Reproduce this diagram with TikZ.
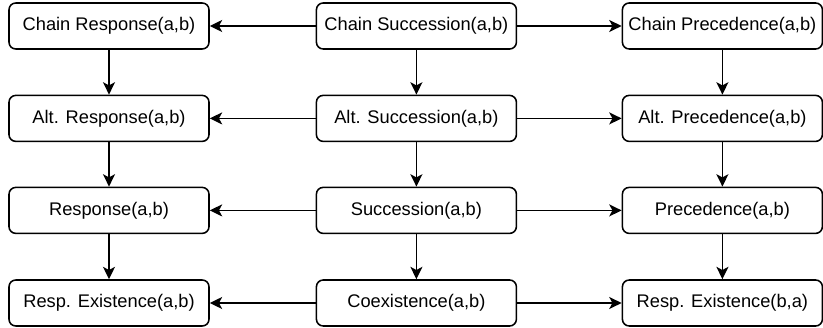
\documentclass[tikz,border=0pt]{standalone}
\usepackage{fontspec}
\setmainfont{Liberation Sans}
\usepackage{tikz}
\usetikzlibrary{positioning}
\usetikzlibrary{arrows.meta}

\tikzset{
  rule/.style={draw, line width=1.1pt, rounded corners=0.17cm,
    minimum width=5cm, minimum height=1.15cm, font=\fontsize{13}{15}\selectfont},
  impl/.style={line width=1.1pt, -{Stealth[length=0.31cm, width=0.3cm, inset=0.08cm]}}
}

\begin{document}
\begin{tikzpicture}
      \useasboundingbox (0,0) rectangle (20.575,8.2);

      \node[rule] (chresp) at (2.725,7.55) {Chain Response(a,b)};
      \node[rule] (chsucc) at (10.41,7.55) {Chain Succession(a,b)};
      \node[rule] (chprec) at (18.06,7.55) {Chain Precedence(a,b)};

      \node[rule] (altresp) at (2.725,5.24) {Alt. Response(a,b)};
      \node[rule] (altsucc) at (10.41,5.24) {Alt. Succession(a,b)};
      \node[rule] (altprec) at (18.06,5.24) {Alt. Precedence(a,b)};

      \node[rule] (resp) at (2.725,2.94) {Response(a,b)};
      \node[rule] (succ) at (10.41,2.94) {Succession(a,b)};
      \node[rule] (prec) at (18.06,2.94) {Precedence(a,b)};

      \node[rule] (respex) at (2.725,0.625) {Resp. Existence(a,b)};
      \node[rule] (coex) at (10.41,0.625) {Coexistence(a,b)};
      \node[rule] (respexba) at (18.06,0.625) {Resp. Existence(b,a)};

      % horizontal
      \draw[impl] (chsucc) -- (chresp);
      \draw[impl] (chsucc) -- (chprec);
      \draw[impl] (altsucc) -- (altresp);
      \draw[impl] (altsucc) -- (altprec);
      \draw[impl] (succ) -- (resp);
      \draw[impl] (succ) -- (prec);
      \draw[impl] (coex) -- (respex);
      \draw[impl] (coex) -- (respexba);

      % vertical
      \draw[impl] (chresp) -- (altresp);
      \draw[impl] (altresp) -- (resp);
      \draw[impl] (resp) -- (respex);
      \draw[impl] (chsucc) -- (altsucc);
      \draw[impl] (altsucc) -- (succ);
      \draw[impl] (succ) -- (coex);
      \draw[impl] (chprec) -- (altprec);
      \draw[impl] (altprec) -- (prec);
      \draw[impl] (prec) -- (respexba);
\end{tikzpicture}
\end{document}
